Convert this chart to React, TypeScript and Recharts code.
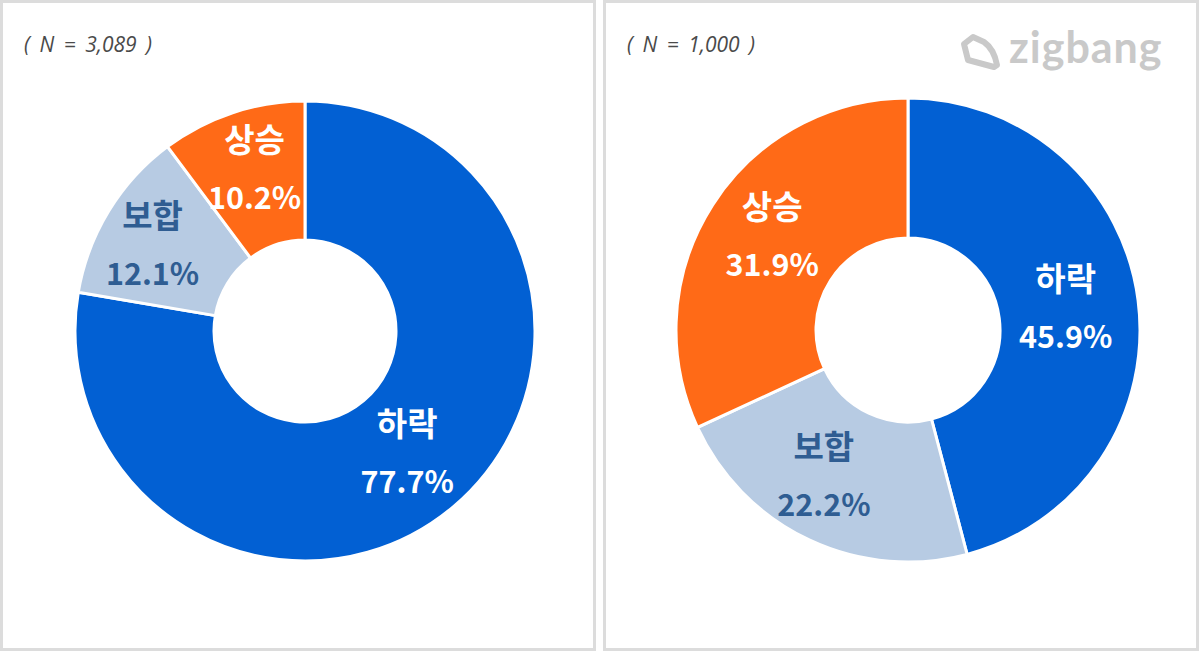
import { Cell, Pie, PieChart } from 'recharts';

const categories = ['하락', '보합', '상승'];
const leftValues = [77.7, 12.1, 10.2];
const rightValues = [45.9, 22.2, 31.9];
const leftTotal = '( N = 3,089 )';
const rightTotal = '( N = 1,000 )';

const sliceColors = ['#0260d3', '#b7cbe3', '#ff6a17'];
const labelColors = ['#ffffff', '#2f5d92', '#ffffff'];
// hand nudges so labels sit where they do in the source picture
const leftNudge = [[-1, -2], [-16, -4], [0, -12]];
const rightNudge = [[-1, -3], [-16, -1], [-1, -10]];

const FONT = '"Noto Sans CJK KR", "Noto Sans", sans-serif';
const RAD = Math.PI / 180;

function makeLabel(nudge: number[][]) {
  return function DonutLabel(props: any) {
    const { cx, cy, midAngle, index, name, value } = props;
    const x = cx + 160 * Math.cos(-midAngle * RAD) + nudge[index][0];
    const y = cy + 160 * Math.sin(-midAngle * RAD) + nudge[index][1];
    const common = {
      x,
      textAnchor: 'middle' as const,
      fill: labelColors[index],
      fontFamily: FONT,
      fontWeight: 700,
      dominantBaseline: 'central' as const,
    };
    return (
      <g>
        <text {...common} y={y - 29} fontSize={33}>{name}</text>
        <text {...common} y={y + 29} fontSize={30.5}>{value.toFixed(1)}%</text>
      </g>
    );
  };
}

function Donut({ values, nudge, cx, cy, outer, inner }: any) {
  const data = categories.map((name, i) => ({ name, value: values[i] }));
  return (
    <PieChart width={596} height={651} margin={{ top: 0, right: 0, bottom: 0, left: 0 }}>
      <Pie
        data={data}
        dataKey='value'
        nameKey='name'
        cx={cx}
        cy={cy}
        outerRadius={outer}
        innerRadius={inner}
        startAngle={90}
        endAngle={-270}
        stroke='#ffffff'
        strokeWidth={3}
        label={makeLabel(nudge)}
        labelLine={false}
        isAnimationActive={false}
      >
        {data.map((d, i) => (
          <Cell key={d.name} fill={sliceColors[i]} />
        ))}
      </Pie>
    </PieChart>
  );
}

function Panel({ left, total, textLeft, children }: any) {
  return (
    <div
      style={{
        position: 'absolute',
        left,
        top: 0,
        width: 596,
        height: 651,
        boxSizing: 'border-box',
        border: '3px solid #dcdcdc',
      }}
    >
      <div style={{ position: 'absolute', left: -3, top: -3 }}>{children}</div>
      <div
        style={{
          position: 'absolute',
          left: textLeft - 3,
          top: 27,
          fontFamily: '"Open Sans", sans-serif',
          fontStyle: 'italic',
          fontSize: 21,
          lineHeight: '28px',
          color: '#4a4a4a',
          whiteSpace: 'pre',
          wordSpacing: 4,
        }}
      >
        {total}
      </div>
    </div>
  );
}

function Logo() {
  return (
    <div style={{ position: 'absolute', left: 958, top: 24, width: 210, height: 50 }}>
      <svg width={46} height={46} style={{ position: 'absolute', left: 0, top: 5 }}>
        <path
          d='M6 15 L15 8 L26 13 Q36 20 39 36 L36 38 L10 31 L6 15 Z'
          fill='none'
          stroke='#c9c9c9'
          strokeWidth={6}
          strokeLinejoin='round'
        />
      </svg>
      <div
        style={{
          position: 'absolute',
          left: 51,
          top: -2,
          fontFamily: 'Lato, sans-serif',
          fontWeight: 700,
          fontSize: 43,
          letterSpacing: 1,
          lineHeight: '50px',
          color: '#c9c9c9',
        }}
      >
        zigbang
      </div>
    </div>
  );
}

export default function App() {
  return (
    <div style={{ position: 'absolute', left: 0, top: 0, width: 1200, height: 651, background: '#fff' }}>
      <Panel left={0} total={leftTotal} textLeft={24}>
        <Donut values={leftValues} nudge={leftNudge} cx={305} cy={331} outer={230} inner={91} />
      </Panel>
      <Panel left={603} total={rightTotal} textLeft={24}>
        <Donut values={rightValues} nudge={rightNudge} cx={305} cy={330} outer={232} inner={92} />
      </Panel>
      <Logo />
    </div>
  );
}
